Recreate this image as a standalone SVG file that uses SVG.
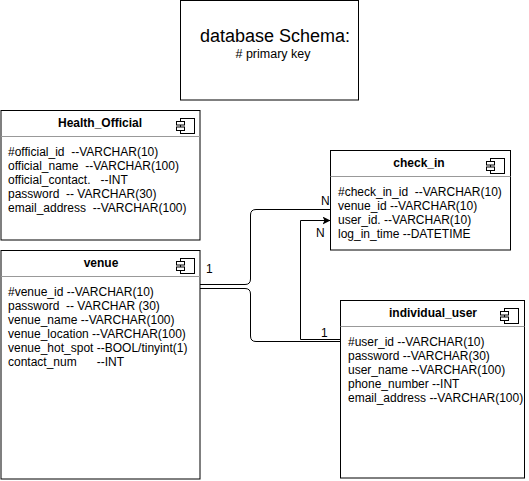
<svg xmlns="http://www.w3.org/2000/svg" width="529" height="481" viewBox="0 0 529 481">
<defs>
<style>
.box{fill:#fff;stroke:#000;stroke-width:1}
.div{stroke:#999;stroke-width:1}
.ico{fill:#fff;stroke:#000;stroke-width:1}
.t{font-family:"Liberation Sans",Arial,sans-serif;font-size:12px;fill:#000;white-space:pre}
.h{font-family:"Liberation Sans",Arial,sans-serif;font-size:12px;font-weight:bold;fill:#000;text-anchor:middle}
.c{fill:none;stroke:#000;stroke-width:1}
</style>
<marker id="arr" markerWidth="10" markerHeight="10" refX="8" refY="4" orient="auto" markerUnits="userSpaceOnUse">
<path d="M0,0 L8,4 L0,8 L2,4 Z" fill="#000"/>
</marker>
</defs>
<rect width="529" height="481" fill="#fff"/>

<g id="title">
<rect class="box" x="180.5" y="0.5" width="178" height="99.5"/>
<text x="275" y="42" font-family="Liberation Sans,Arial,sans-serif" font-size="18" text-anchor="middle">database Schema:</text>
<text x="273" y="58" font-family="Liberation Sans,Arial,sans-serif" font-size="12.5" text-anchor="middle"># primary key</text>
</g>

<g id="health_official">
<rect class="box" x="1" y="110.5" width="199" height="129.5"/>
<line class="div" x1="1" y1="136.5" x2="200" y2="136.5"/>
<text class="h" x="100" y="127">Health_Official</text>
<rect class="ico" x="180.5" y="118.5" width="14" height="15"/>
<rect class="ico" x="176.5" y="121.5" width="8" height="3.5"/>
<rect class="ico" x="176.5" y="127" width="8" height="3.5"/>
<text class="t" x="8" y="155.5">#official_id  --VARCHAR(10)</text>
<text class="t" x="8" y="169.5">official_name  --VARCHAR(100)</text>
<text class="t" x="8" y="183.5">official_contact.   --INT</text>
<text class="t" x="8" y="197.5">password  -- VARCHAR(30)</text>
<text class="t" x="8" y="211.5">email_address  --VARCHAR(100)</text>
</g>

<g id="venue">
<rect class="box" x="1" y="250.5" width="199" height="228.5"/>
<line class="div" x1="1" y1="276.5" x2="200" y2="276.5"/>
<text class="h" x="101" y="267">venue</text>
<rect class="ico" x="180.5" y="258.5" width="14" height="15"/>
<rect class="ico" x="176.5" y="261.5" width="8" height="3.5"/>
<rect class="ico" x="176.5" y="267" width="8" height="3.5"/>
<text class="t" x="8" y="295.5">#venue_id --VARCHAR(10)</text>
<text class="t" x="8" y="309.5">password  -- VARCHAR (30)</text>
<text class="t" x="8" y="323.5">venue_name --VARCHAR(100)</text>
<text class="t" x="8" y="337.5">venue_location --VARCHAR(100)</text>
<text class="t" x="8" y="351.5">venue_hot_spot --BOOL/tinyint(1)</text>
<text class="t" x="8" y="365.5">contact_num      --INT</text>
</g>

<g id="check_in">
<rect class="box" x="330.5" y="150.5" width="180" height="99.5"/>
<line class="div" x1="330.5" y1="176.5" x2="510.5" y2="176.5"/>
<text class="h" x="419" y="167">check_in</text>
<rect class="ico" x="490.5" y="158.5" width="14" height="15"/>
<rect class="ico" x="486.5" y="161.5" width="8" height="3.5"/>
<rect class="ico" x="486.5" y="167" width="8" height="3.5"/>
<text class="t" x="338" y="195.5">#check_in_id  --VARCHAR(10)</text>
<text class="t" x="338" y="209.5">venue_id --VARCHAR(10)</text>
<text class="t" x="338" y="223.5">user_id. --VARCHAR(10)</text>
<text class="t" x="338" y="237.5">log_in_time --DATETIME</text>
</g>

<g id="individual_user">
<rect class="box" x="340.5" y="300.5" width="184" height="177.5"/>
<line class="div" x1="340.5" y1="326.5" x2="524.5" y2="326.5"/>
<text class="h" x="433" y="317">individual_user</text>
<rect class="ico" x="504.5" y="308.5" width="14" height="15"/>
<rect class="ico" x="500.5" y="311.5" width="8" height="3.5"/>
<rect class="ico" x="500.5" y="317" width="8" height="3.5"/>
<text class="t" x="348" y="345.5">#user_id --VARCHAR(10)</text>
<text class="t" x="348" y="359.5">password --VARCHAR(30)</text>
<text class="t" x="348" y="373.5">user_name --VARCHAR(100)</text>
<text class="t" x="348" y="387.5">phone_number --INT</text>
<text class="t" x="348" y="401.5">email_address --VARCHAR(100)</text>
</g>

<g id="connectors">
<path class="c" d="M200,284.5 H245 Q250.5,284.5 250.5,279 V215 Q250.5,209.5 256,209.5 H330.5"/>
<path class="c" d="M200,288.5 H245 Q250.5,288.5 250.5,294 V336 Q250.5,341.5 256,341.5 H340.5"/>
<path class="c" d="M340.5,339.5 H300.5 V220.5 H330.5" marker-end="url(#arr)"/>
<text class="t" x="206" y="273">1</text>
<text class="t" x="321" y="205">N</text>
<text class="t" x="316" y="237">N</text>
<text class="t" x="321" y="337">1</text>
</g>
</svg>
